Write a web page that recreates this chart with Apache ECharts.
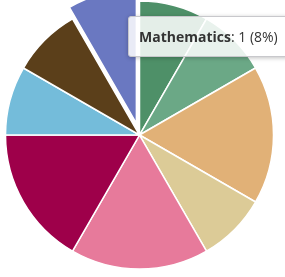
<!DOCTYPE html>
<html>
<head>
<meta charset="utf-8">
<script src="https://cdn.jsdelivr.net/npm/echarts@6/dist/echarts.min.js"></script>
<style>
  html, body { margin: 0; padding: 0; background: #fff; }
  #chart { width: 285px; height: 277px; }
</style>
</head>
<body>
<div id="chart"></div>
<script>
// subjects, clockwise from 12 o'clock
var subjects = ['Mathematics', 'Physics', 'Chemistry', 'Biology', 'English', 'History', 'Geography', 'Art', 'Music'];
var counts = [1, 1, 2, 1, 2, 2, 1, 1, 1];
var colors = ['#4e9068', '#6ba886', '#e1b177', '#dccb97', '#e77a9b', '#9e004a', '#74bcda', '#5b3f1a', '#6a78c1'];
var selectedSubject = 'Music';

var chart = echarts.init(document.getElementById('chart'));

var pieData = subjects.map(function (name, i) {
    return {
        name: name,
        value: counts[i],
        selected: name === selectedSubject,
        itemStyle: { color: colors[i] }
    };
});

chart.setOption({
    animation: false,
    tooltip: {
        trigger: 'item',
        triggerOn: 'none',
        alwaysShowContent: true,
        transitionDuration: 0,
        position: [128, 16],
        backgroundColor: 'rgba(255,255,255,0.85)',
        borderColor: '#c8c8cc',
        borderWidth: 1,
        padding: [9, 10],
        textStyle: { fontFamily: 'Open Sans', fontSize: 14, color: '#333' },
        extraCssText: 'box-shadow:0 1px 4px rgba(0,0,0,0.25);border-radius:3px;',
        formatter: function (p) {
            return '<b>' + p.name + '</b>: ' + p.value + ' (' + Math.round(p.percent) + '%)';
        }
    },
    series: [{
        type: 'pie',
        center: [139.5, 135],
        radius: 134,
        startAngle: 90,
        selectedMode: 'single',
        selectedOffset: 12,
        label: { show: false },
        labelLine: { show: false },
        emphasis: { disabled: true },
        itemStyle: { borderColor: '#fff', borderWidth: 1.5 },
        data: pieData
    }]
});

chart.dispatchAction({ type: 'showTip', seriesIndex: 0, dataIndex: 0 });
</script>
</body>
</html>
